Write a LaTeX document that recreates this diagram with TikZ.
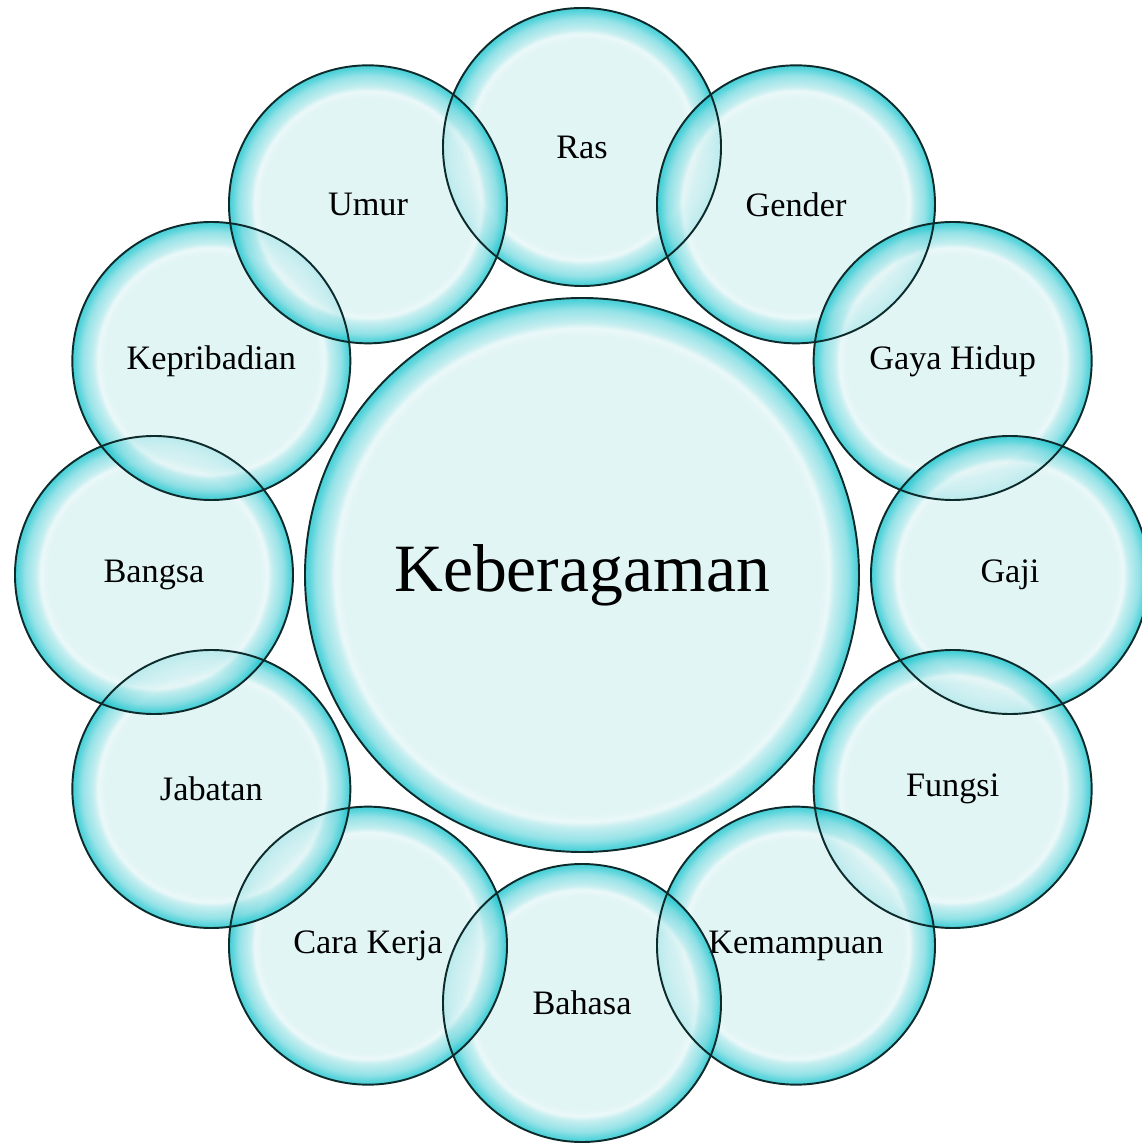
\documentclass[tikz,border=0pt]{standalone}
\usepackage{fontspec}
\setmainfont{Liberation Serif}

\definecolor{bubfill}{HTML}{DAF2F3}
\definecolor{bubrim}{HTML}{18C4CE}
\definecolor{bubline}{HTML}{0E2B2C}

\pgfdeclareradialshading{smallbub}{\pgfpoint{0bp}{0bp}}{color(0bp)=(bubfill); color(19bp)=(bubfill); color(20.4bp)=(bubfill!70!white); color(21.2bp)=(bubrim!18!bubfill); color(23.2bp)=(bubrim!50!bubfill); color(24.5bp)=(bubrim!90!bubfill); color(25bp)=(bubrim); color(50bp)=(bubrim)}
\pgfdeclareradialshading{bigbub}{\pgfpoint{0bp}{0bp}}{color(0bp)=(bubfill); color(21.5bp)=(bubfill); color(22.3bp)=(bubfill!70!white); color(22.8bp)=(bubrim!18!bubfill); color(24bp)=(bubrim!50!bubfill); color(24.7bp)=(bubrim!90!bubfill); color(25bp)=(bubrim); color(50bp)=(bubrim)}

\begin{document}
\begin{tikzpicture}
\useasboundingbox (-11.64,-11.36) rectangle (11.2,11.5);

\begin{scope}[every node/.style={circle,inner sep=0pt,fill opacity=0.8,text opacity=1,
              minimum size=5.56cm,shading=smallbub,
              font=\fontsize{19.5}{23}\selectfont}]
\node (ras) at (90:8.56) {Ras};
\node (gender) at (60:8.56) {Gender};
\node (gaya) at (30:8.56) {Gaya Hidup};
\node (gaji) at (0:8.56) {Gaji};
\node (fungsi) at (-30:8.56) {Fungsi};
\node (kemampuan) at (-60:8.56) {Kemampuan};
\node (bahasa) at (-90:8.56) {Bahasa};
\node (cara) at (-120:8.56) {Cara Kerja};
\node (jabatan) at (-150:8.56) {Jabatan};
\node (bangsa) at (180:8.56) {Bangsa};
\node (pribadi) at (150:8.56) {Kepribadian};
\node (umur) at (120:8.56) {Umur};
\node[minimum size=11.08cm,shading=bigbub,
      font=\fontsize{38.5}{44}\selectfont] (pusat) at (0,0) {Keberagaman};
\end{scope}

\begin{scope}[every path/.style={draw=bubline,line width=1.1pt}]
\draw (ras.center) circle[radius=2.78];
\draw (gender.center) circle[radius=2.78];
\draw (gaya.center) circle[radius=2.78];
\draw (gaji.center) circle[radius=2.78];
\draw (fungsi.center) circle[radius=2.78];
\draw (kemampuan.center) circle[radius=2.78];
\draw (bahasa.center) circle[radius=2.78];
\draw (cara.center) circle[radius=2.78];
\draw (jabatan.center) circle[radius=2.78];
\draw (bangsa.center) circle[radius=2.78];
\draw (pribadi.center) circle[radius=2.78];
\draw (umur.center) circle[radius=2.78];
\draw (pusat.center) circle[radius=5.54];
\end{scope}
\end{tikzpicture}
\end{document}
